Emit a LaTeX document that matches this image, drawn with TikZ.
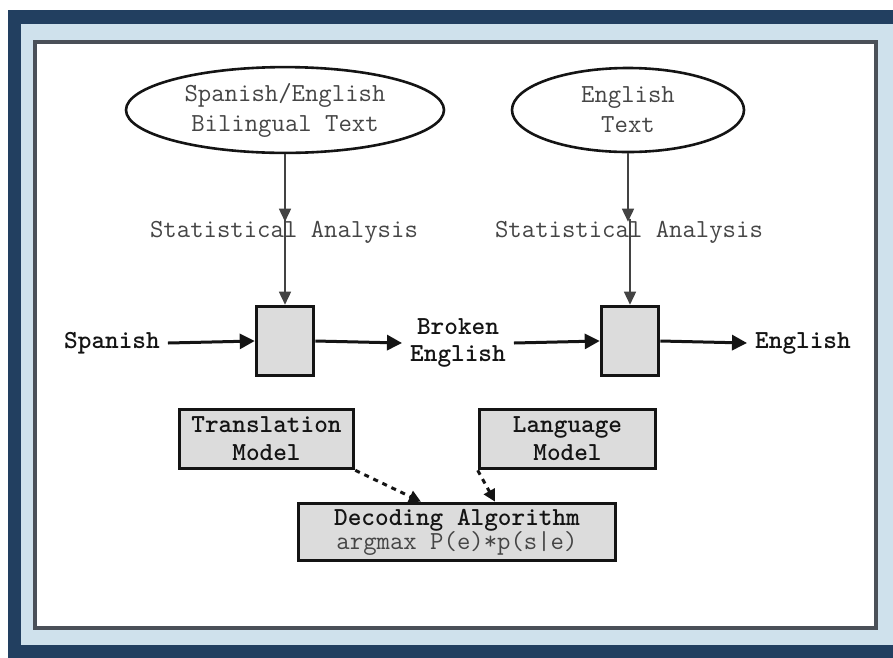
\documentclass[tikz,border=0pt]{standalone}
\usetikzlibrary{arrows.meta,shapes.geometric}
\definecolor{framedark}{HTML}{223F60}
\definecolor{framelight}{HTML}{CFE1EC}
\definecolor{framegray}{HTML}{4A5058}
\definecolor{boxgray}{HTML}{DCDCDC}
\definecolor{txtgray}{HTML}{454545}
\definecolor{ink}{HTML}{141414}
\begin{document}
\begin{tikzpicture}[x=1pt,y=-1pt,
  font=\ttfamily\fontsize{26}{29}\selectfont,
  lbl/.style={font=\ttfamily\bfseries\fontsize{26}{27}\selectfont, text=ink, inner sep=8pt, align=center},
  src/.style={ellipse, draw=ink, line width=2.6pt, fill=white, text=txtgray, align=center,
              font=\ttfamily\fontsize{26}{30}\selectfont},
  ana/.style={text=txtgray, inner sep=2pt},
  proc/.style={draw=ink, fill=boxgray, line width=3.6pt, minimum width=57pt, minimum height=69pt},
  model/.style={draw=ink, fill=boxgray, line width=3.6pt, align=center, text=ink},
  flow/.style={draw=ink, line width=3pt, -{Triangle[length=15pt,width=15pt]}},
  feed/.style={draw=ink!80, line width=1.5pt, -{Triangle[length=13pt,width=12pt]}},
  weight/.style={draw=ink, line width=3pt, dash pattern=on 5pt off 5pt,
                 -{Triangle[length=12pt,width=12pt]}},
]
\useasboundingbox (0,0) rectangle (893,657);
\clip (0,0) rectangle (893,657);
% framed background
\fill[white] (0,0) rectangle (893,657);
\fill[framedark] (8,10) rectangle (905,670);
\fill[framelight] (21,24) rectangle (905,645);
\filldraw[fill=white, draw=framegray, line width=4pt] (35,42) rectangle (876,628);

% sources
\node[src, minimum width=318pt, minimum height=84pt] (bitext) at (285,110)
  {Spanish/English\\Bilingual Text};
\node[src, minimum width=232pt, minimum height=84pt] (entext) at (628,110)
  {English\\Text};

% statistical analysis labels
\node[ana] (sa1) at (284,232) {Statistical Analysis};
\node[ana] (sa2) at (629,232) {Statistical Analysis};

% processing boxes
\node[proc] (tbox) at (285,341) {};
\node[proc] (lbox) at (630,341) {};

% pipeline labels
\node[lbl] (spanish) at (112,343) {Spanish};
\node[lbl] (broken) at (458,343) {Broken\\English};
\node[lbl] (english) at (803,343) {English};

% models and decoder
\node[model, font=\ttfamily\bfseries\fontsize{26}{28}\selectfont,
      minimum width=174pt, minimum height=59pt] (tm) at (266.5,439) {Translation\\Model};
\node[model, font=\ttfamily\bfseries\fontsize{26}{28}\selectfont,
      minimum width=176pt, minimum height=59pt] (lm) at (567.5,439) {Language\\Model};
\node[model, font=\ttfamily\fontsize{26}{24}\selectfont,
      minimum width=317pt, minimum height=57pt] (dec) at (457,532)
  {\textbf{Decoding Algorithm}\\\textcolor{txtgray}{argmax P(e)*p(s|e)}};

% analysis feeds
\draw[feed] (bitext.south) -- ([yshift=-3pt]sa1.north -| bitext.south);
\draw[feed] (sa1.north -| tbox.north) -- (tbox.north);
\draw[feed] (entext.south) -- ([yshift=-3pt]sa2.north -| entext.south);
\draw[feed] (sa2.north -| lbox.north) -- (lbox.north);

% translation pipeline
\draw[flow] (spanish.east) -- (tbox.west);
\draw[flow] (tbox.east) -- (broken.west);
\draw[flow] (broken.east) -- (lbox.west);
\draw[flow] (lbox.east) -- (english.west);

% model weights into decoder
\draw[weight] (tm.south east) -- ([xshift=-36pt]dec.north);
\draw[weight] (lm.south west) -- ([xshift=38pt]dec.north);
\end{tikzpicture}
\end{document}
